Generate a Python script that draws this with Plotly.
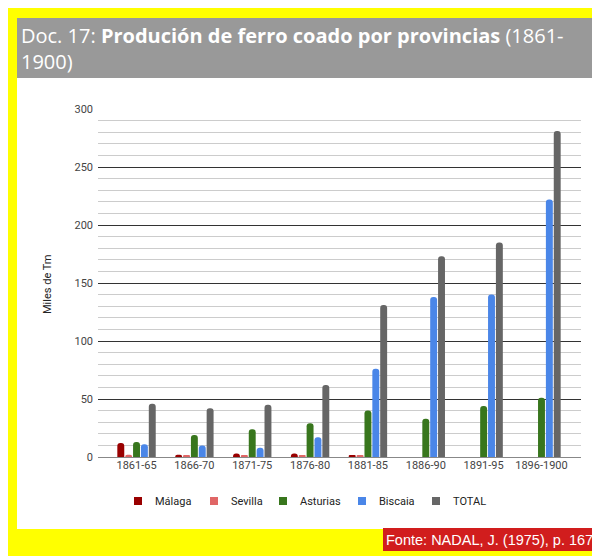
import plotly.graph_objects as go

# -------------------------------------------------------------------
# DATA (miles de Tm)
# -------------------------------------------------------------------
periods = ["1861-65", "1866-70", "1871-75", "1876-80",
           "1881-85", "1886-90", "1891-95", "1896-1900"]

malaga = [12, 2, 3, 3, 1, None, None, None]
sevilla = [2, 1, 1, 1, 1, None, None, None]
asturias = [13, 19, 24, 29, 40, 33, 44, 51]
biscaia = [11, 10, 8, 17, 76, 138, 140, 222]
total = [46, 42, 45, 62, 131, 173, 185, 281]

series = [
    ("Málaga", malaga, "#990000"),
    ("Sevilla", sevilla, "#e06666"),
    ("Asturias", asturias, "#38761d"),
    ("Biscaia", biscaia, "#4a86e8"),
    ("TOTAL", total, "#666666"),
]

# -------------------------------------------------------------------
# LAYOUT HELPERS (page pixel -> paper); page has an 8px body margin
# -------------------------------------------------------------------
OFF = 8
W, H = 600, 556
L, R, T, B = 90, 27, 101, 107
PW, PH = W - L - R, H - T - B


def px(x):
    return (x - OFF - L) / PW


def py(y):
    return (H - B - (y - OFF)) / PH


def rect(x0, y0, x1, y1, color):
    return dict(type="rect", xref="paper", yref="paper", layer="below",
                x0=px(x0), x1=px(x1), y0=py(y1), y1=py(y0),
                fillcolor=color, line=dict(width=0))


# -------------------------------------------------------------------
# FIGURE
# -------------------------------------------------------------------
fig = go.Figure()

for name, vals, color in series:
    fig.add_trace(go.Bar(
        x=periods, y=vals, name=name, showlegend=False,
        marker=dict(color=color, cornerradius=3, line=dict(width=0)),
    ))

shapes = [
    rect(17, 18, 620, 78, "#999999"),     # title band
    rect(17, 78, 620, 529, "#ffffff"),    # chart area
    rect(383, 528, 620, 551, "#d11d1d"),  # source box
]

annotations = [
    dict(xref="paper", yref="paper", x=px(19), y=py(20),
         xanchor="left", yanchor="top", align="left", showarrow=False,
         text="Doc. 17: <b>Produción de ferro coado por provincias</b> (1861-<br>1900)",
         font=dict(family="Open Sans", size=20, color="#ffffff")),
    dict(xref="paper", yref="paper", x=px(47), y=py(285),
         xanchor="center", yanchor="middle",
         textangle=-90, showarrow=False,
         text="Miles de Tm",
         font=dict(family="Roboto", size=11, color="#222222")),
    dict(xref="paper", yref="paper", x=px(384), y=py(540),
         xanchor="left", yanchor="middle", showarrow=False,
         text="Fonte: NADAL, J. (1975), p. 167",
         font=dict(family="Liberation Sans", size=14.5, color="#ffffff")),
]

# manual legend (Google-style compact spacing)
legend_x = [134, 210, 279, 358, 432]
legend_y = 501
for (name, _, color), lx in zip(series, legend_x):
    shapes.append(dict(type="rect", xref="paper", yref="paper",
                       x0=px(lx), x1=px(lx + 8),
                       y0=py(legend_y + 4), y1=py(legend_y - 4),
                       fillcolor=color, line=dict(width=0)))
    annotations.append(dict(xref="paper", yref="paper",
                            x=px(lx + 19), y=py(legend_y),
                            xanchor="left", yanchor="middle", showarrow=False,
                            text=name,
                            font=dict(family="Roboto", size=11, color="#222222")))

fig.update_layout(
    width=W, height=H,
    margin=dict(l=L, r=R, t=T, b=B),
    paper_bgcolor="#ffff00",
    plot_bgcolor="rgba(0,0,0,0)",
    barmode="group",
    bargap=0.32,
    bargroupgap=0.12,
    font=dict(family="Roboto", size=11, color="#444444"),
    xaxis=dict(
        range=[-0.666, 7.683],
        showgrid=False,
        showline=False,
        zeroline=False,
        tickfont=dict(family="Roboto", size=11, color="#444444"),
        fixedrange=True,
    ),
    yaxis=dict(
        range=[0, 300],
        dtick=50,
        showgrid=True,
        gridcolor="#333333",
        gridwidth=1,
        zeroline=True,
        zerolinecolor="#888888",
        zerolinewidth=1,
        showline=False,
        tickfont=dict(family="Roboto", size=11, color="#444444"),
        ticks="",
        ticklabelstandoff=4,
        minor=dict(dtick=10, showgrid=True, gridcolor="#cccccc", gridwidth=1),
        fixedrange=True,
    ),
    showlegend=False,
    shapes=shapes,
    annotations=annotations,
)

fig.write_html("out.html")
